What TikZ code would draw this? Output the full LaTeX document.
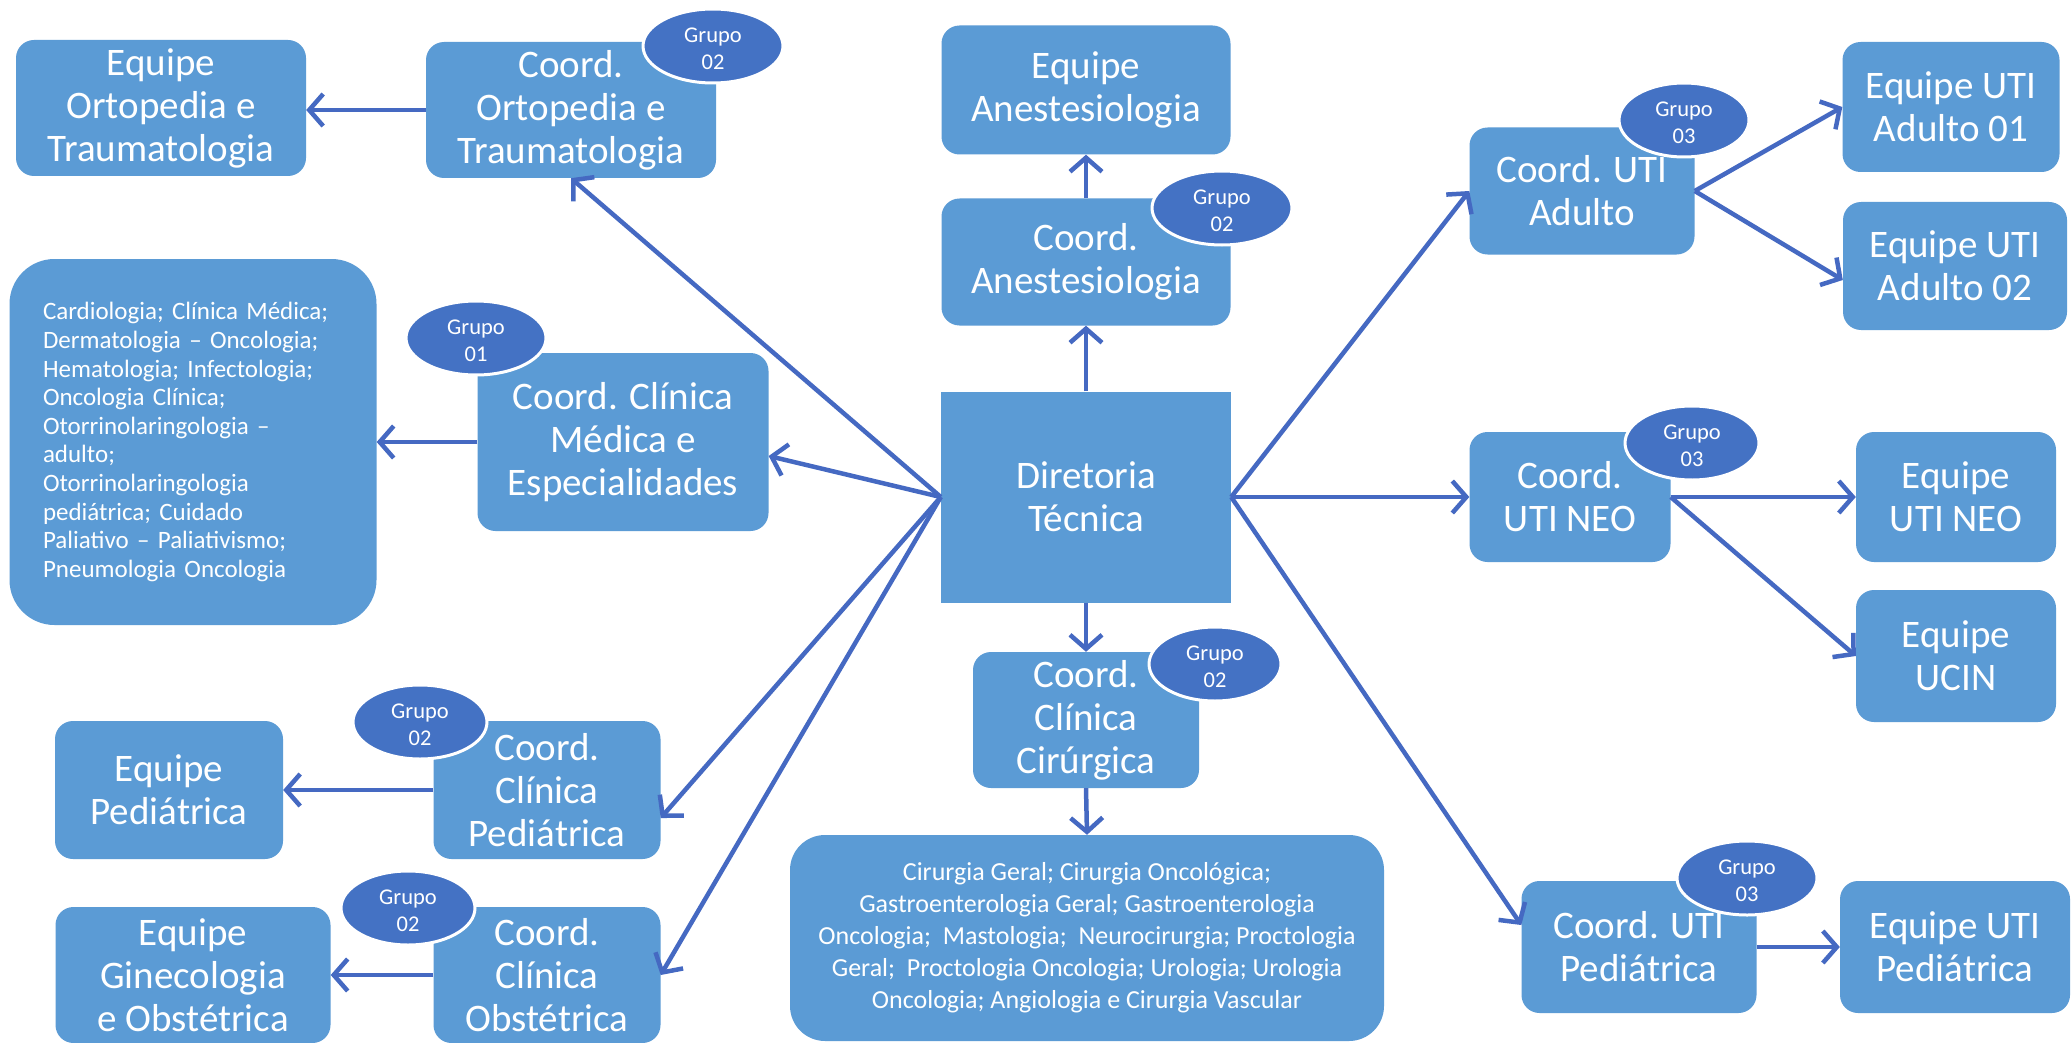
\documentclass[tikz,border=0pt]{standalone}
\usepackage{fontspec}
\setmainfont{Carlito}
\usetikzlibrary{shapes.geometric,arrows.meta}
\definecolor{boxblue}{HTML}{5B9BD5}
\definecolor{ellblue}{HTML}{4472C4}
\definecolor{arrblue}{HTML}{4569C2}
\begin{document}
\begin{tikzpicture}[x=1pt,y=-1pt,
  box/.style={rounded corners=18pt, fill=boxblue, text=white, align=center, inner sep=0pt, font=\fontsize{39}{43}\selectfont},
  grp/.style={ellipse, fill=ellblue, draw=white, line width=3pt, inner sep=0pt, minimum width=140pt, minimum height=74pt},
  grptext/.style={text=white, align=center, inner sep=0pt, font=\fontsize{22.5}{27}\selectfont},
  conn/.style={draw=arrblue, line width=4.5pt, -{Straight Barb[length=14pt,width=32pt]}},
]
\useasboundingbox[fill=white] (0,0) rectangle (2071,1043);

% left column
\node[box, minimum width=290pt, minimum height=136pt] (eqort) at (161,108) {Equipe\\Ortopedia e\\Traumatologia};
\node[box, minimum width=290pt, minimum height=136pt] (coort) at (571,110) {Coord.\\Ortopedia e\\Traumatologia};
\node[box, rounded corners=45pt, minimum width=367pt, minimum height=366pt, text width=300pt, align=left, font=\fontsize{25}{28.6}\selectfont] (card) at (193,442) {Cardiologia; Clínica Médica;\\Dermatologia – Oncologia;\\Hematologia; Infectologia;\\Oncologia Clínica;\\Otorrinolaringologia –\\adulto;\\Otorrinolaringologia\\pediátrica; Cuidado\\Paliativo – Paliativismo;\\Pneumologia Oncologia};
\node[box, minimum width=291pt, minimum height=178pt] (coclin) at (623,442) {Coord. Clínica\\Médica e\\Especialidades};
\node[box, minimum width=228pt, minimum height=138pt] (eqped) at (169,790) {Equipe\\Pediátrica};
\node[box, minimum width=227pt, minimum height=138pt] (coped) at (547,790) {Coord.\\Clínica\\Pediátrica};
\node[box, minimum width=275pt, minimum height=136pt] (eqgin) at (193,975) {Equipe\\Ginecologia\\e Obstétrica};
\node[box, minimum width=227pt, minimum height=136pt] (coobs) at (547,975) {Coord.\\Clínica\\Obstétrica};

% centre column
\node[box, minimum width=289pt, minimum height=129pt] (eqane) at (1086,90) {Equipe\\Anestesiologia};
\node[box, minimum width=289pt, minimum height=127pt] (coane) at (1086,262) {Coord.\\Anestesiologia};
\node[box, rounded corners=0pt, minimum width=290pt, minimum height=211pt] (dir) at (1086,497) {Diretoria\\Técnica};
\node[box, minimum width=226pt, minimum height=136pt] (cocir) at (1086,720) {Coord.\\Clínica\\Cirúrgica};
\node[box, rounded corners=35pt, minimum width=594pt, minimum height=206pt, font=\fontsize{26}{32}\selectfont] (cirbox) at (1087,938) {Cirurgia Geral; Cirurgia Oncológica;\\Gastroenterologia Geral; Gastroenterologia\\Oncologia;\ \ Mastologia;\ \ Neurocirurgia; Proctologia\\Geral;\ \ Proctologia Oncologia; Urologia; Urologia\\Oncologia; Angiologia e Cirurgia Vascular};

% right side
\node[box, minimum width=225pt, minimum height=127pt] (coutiad) at (1582,191) {Coord. UTI\\Adulto};
\node[box, minimum width=217pt, minimum height=130pt] (eqad1) at (1951,107) {Equipe UTI\\Adulto 01};
\node[box, minimum width=224pt, minimum height=128pt] (eqad2) at (1955,266) {Equipe UTI\\Adulto 02};
\node[box, minimum width=201pt, minimum height=130pt] (coneo) at (1570,497) {Coord.\\UTI NEO};
\node[box, minimum width=200pt, minimum height=130pt] (eqneo) at (1956,497) {Equipe\\UTI NEO};
\node[box, minimum width=200pt, minimum height=132pt] (equcin) at (1956,656) {Equipe\\UCIN};
\node[box, minimum width=235pt, minimum height=132pt] (coutiped) at (1639,947) {Coord. UTI\\Pediátrica};
\node[box, minimum width=230pt, minimum height=132pt] (equtiped) at (1955,947) {Equipe UTI\\Pediátrica};

% group badges
\node[grp] (gort) at (713,46) {};
\node[grptext] (gortt) at ([yshift=-3pt]gort.center) {Grupo\\02};
\node[grp] (gclin) at (476,338) {};
\node[grptext] (gclint) at ([yshift=-3pt]gclin.center) {Grupo\\01};
\node[grp, minimum width=134pt] (gped) at (420,722) {};
\node[grptext] (gpedt) at ([yshift=-3pt]gped.center) {Grupo\\02};
\node[grp, minimum width=134pt] (gobs) at (408,908) {};
\node[grptext] (gobst) at ([yshift=-3pt]gobs.center) {Grupo\\02};
\node[grp] (gane) at (1222,208) {};
\node[grptext] (ganet) at ([yshift=-3pt]gane.center) {Grupo\\02};
\node[grp, minimum width=132pt] (gcir) at (1215,664) {};
\node[grptext] (gcirt) at ([yshift=-3pt]gcir.center) {Grupo\\02};
\node[grp, minimum width=130pt] (gad) at (1684,120) {};
\node[grptext] (gadt) at ([yshift=-3pt]gad.center) {Grupo\\03};
\node[grp, minimum width=134pt] (gneo) at (1692,443) {};
\node[grptext] (gneot) at ([yshift=-3pt]gneo.center) {Grupo\\03};
\node[grp] (guped) at (1747,878) {};
\node[grptext] (gupedt) at ([yshift=-3pt]guped.center) {Grupo\\03};

% connectors
\draw[conn] (coort.west) -- (coort.west -| eqort.east);
\draw[conn] (coclin.west) -- (coclin.west -| card.east);
\draw[conn] (coped.west) -- (coped.west -| eqped.east);
\draw[conn] (coobs.west) -- (coobs.west -| eqgin.east);
\draw[conn] (dir.west) -- (coort.south);
\draw[conn] (dir.west) -- ([yshift=-14pt]coclin.east);
\draw[conn] (dir.west) -- ([yshift=-28pt]coped.east);
\draw[conn] (dir.west) -- (coobs.east);
\draw[conn] (dir.north) -- (coane.south);
\draw[conn] (coane.north) -- (eqane.south);
\draw[conn] (dir.south) -- (cocir.north);
\draw[conn] (cocir.south) -- (cirbox.north);
\draw[conn] (dir.east) -- (coutiad.west);
\draw[conn] (dir.east) -- (coneo.west);
\draw[conn] (dir.east) -- ([yshift=22pt]coutiped.west);
\draw[conn] (coutiad.east) -- (eqad1.west);
\draw[conn] (coutiad.east) -- ([yshift=-14pt]eqad2.west);
\draw[conn] (coneo.east) -- (eqneo.west);
\draw[conn] (coneo.east) -- (equcin.west);
\draw[conn] (coutiped.east) -- (coutiped.east -| equtiped.west);
\end{tikzpicture}
\end{document}
